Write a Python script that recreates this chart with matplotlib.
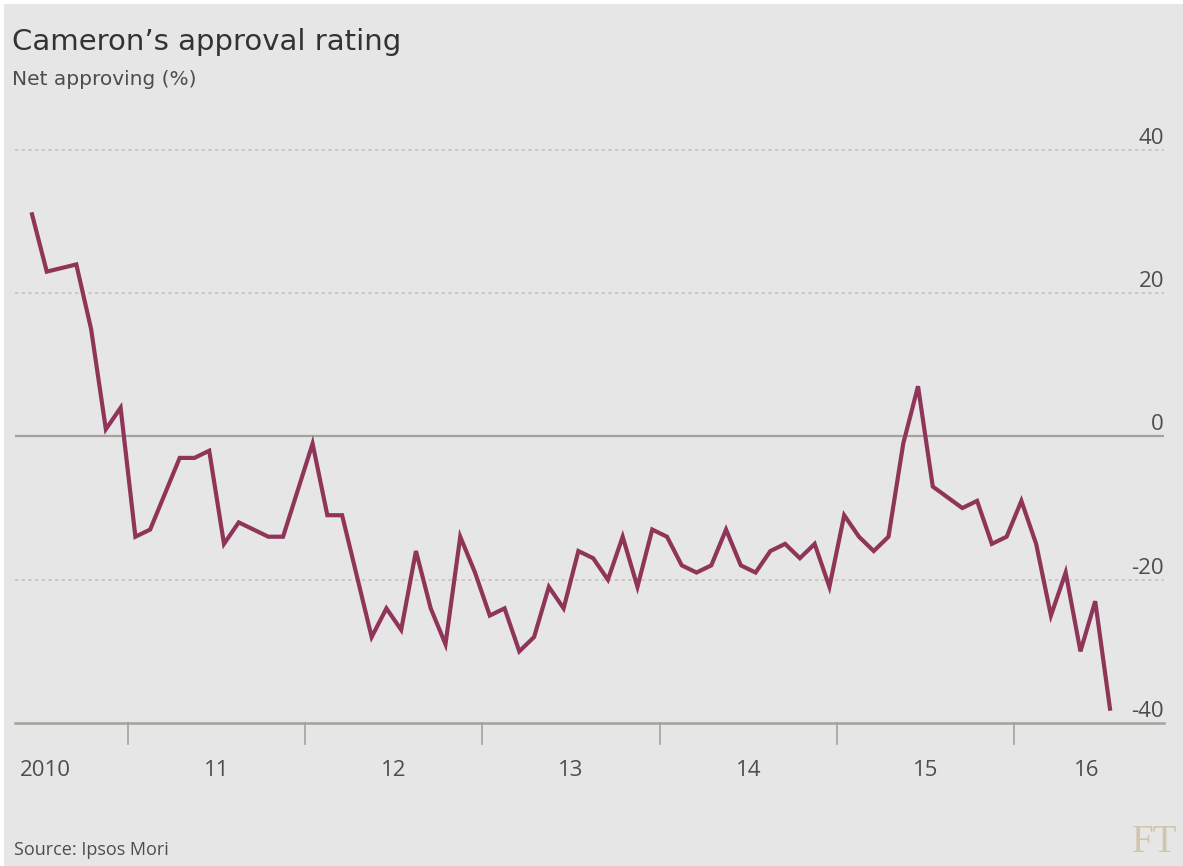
import matplotlib
matplotlib.use("Agg")
import matplotlib.pyplot as plt
from matplotlib.patches import Rectangle

# ---- data ----
months = ["2010-06", "2010-07", "2010-09", "2010-10", "2010-11", "2010-12",
          "2011-01", "2011-02", "2011-04", "2011-05", "2011-06", "2011-07", "2011-08", "2011-10", "2011-11",
          "2012-01", "2012-02", "2012-03", "2012-05", "2012-06", "2012-07", "2012-08", "2012-09", "2012-10",
          "2012-11", "2012-12",
          "2013-01", "2013-02", "2013-03", "2013-04", "2013-05", "2013-06", "2013-07", "2013-08", "2013-09",
          "2013-10", "2013-11", "2013-12",
          "2014-01", "2014-02", "2014-03", "2014-04", "2014-05", "2014-06", "2014-07", "2014-08", "2014-09",
          "2014-10", "2014-11", "2014-12",
          "2015-01", "2015-02", "2015-03", "2015-04", "2015-05", "2015-06", "2015-07", "2015-09", "2015-10",
          "2015-11", "2015-12",
          "2016-01", "2016-02", "2016-03", "2016-04", "2016-05", "2016-06", "2016-07"]
net_approval = [31, 23, 24, 15, 1, 4,
                -14, -13, -3, -3, -2, -15, -12, -14, -14,
                -1, -11, -11, -28, -24, -27, -16, -24, -29, -14, -19,
                -25, -24, -30, -28, -21, -24, -16, -17, -20, -14, -21, -13,
                -14, -18, -19, -18, -13, -18, -19, -16, -15, -17, -15, -21,
                -11, -14, -16, -14, -1, 7, -7, -10, -9, -15, -14,
                -9, -15, -25, -19, -30, -23, -38]
year_ticks = [2011, 2012, 2013, 2014, 2015, 2016]
year_labels = ["2010", "11", "12", "13", "14", "15", "16"]
year_label_pos = [2010.39, 2011.5, 2012.5, 2013.5, 2014.5, 2015.5, 2016.41]
y_ticks = [40, 20, 0, -20, -40]

title = "Cameron\u2019s approval rating"
subtitle = "Net approving (%)"
source = "Source: Ipsos Mori"

# convert months to decimal year (mid-month)
x = [int(m[:4]) + (int(m[5:]) - 0.5) / 12 for m in months]

# ---- style ----
BG = "#e6e6e6"
LINE = "#8f3558"
GRID = "#c9c3b6"
AXIS = "#a3a39c"
TEXT = "#4d4d4d"
LABF = "Open Sans"
PX_PER_UNIT = 7.17

W, H = 1183, 866
fig = plt.figure(figsize=(W / 100, H / 100), dpi=100, facecolor="white")
fig.patches.append(Rectangle((4 / W, 0), 1, 1 - 4 / H, transform=fig.transFigure,
                             facecolor=BG, edgecolor="none", zorder=-10))

left_px, right_px = 15, 1164
top_px, bot_px = 114, 723
ax = fig.add_axes([left_px / W, 1 - bot_px / H, (right_px - left_px) / W, (bot_px - top_px) / H])
ax.set_facecolor("none")

x0 = 2011 + (left_px - 128) / 177.2
x1 = 2011 + (right_px - 128) / 177.2
ax.set_xlim(x0, x1)
ax.set_ylim(-40, 45)

for s in ax.spines.values():
    s.set_visible(False)
ax.set_xticks([])
ax.set_yticks([])

# gridlines and right-hand value labels
for yv in y_ticks:
    if yv == 0:
        ax.axhline(0, color=AXIS, lw=1.6, zorder=1)
    elif yv == -40:
        ax.axhline(-40, color=AXIS, lw=1.8, zorder=1, clip_on=False)
    else:
        ax.axhline(yv, color=GRID, lw=1.2, ls=(0, (2, 2)), zorder=1)
    ax.annotate(str(yv), xy=(1, yv), xycoords=("axes fraction", "data"),
                xytext=(0, 6), textcoords="offset pixels", ha="right", va="baseline",
                fontsize=16, color=TEXT, family=LABF)

# year boundary ticks
for t in year_ticks:
    ax.plot([t, t], [-40, -40 - 21 / PX_PER_UNIT], color=AXIS, lw=1.2, clip_on=False, zorder=1)

for lab, pos in zip(year_labels, year_label_pos):
    ax.text(pos, -40 - 53 / PX_PER_UNIT, lab, ha="left" if lab == "2010" else "center",
            va="baseline", fontsize=16, color=TEXT, family=LABF)

# data line
ax.plot(x, net_approval, color=LINE, lw=3.0, solid_joinstyle="miter", zorder=3, clip_on=False)

# texts
fig.text(12 / W, 1 - 50 / H, title, fontsize=21, color="#333333", family="DejaVu Sans",
         ha="left", va="baseline")
fig.text(12 / W, 1 - 85 / H, subtitle, fontsize=14.5, color=TEXT, family="DejaVu Sans",
         ha="left", va="baseline")
fig.text(14 / W, 1 - 855 / H, source, fontsize=13, color=TEXT, family=LABF,
         ha="left", va="baseline")
fig.text(1177 / W, 1 - 852 / H, "FT", fontsize=28, color="#d2c5b0", family="Liberation Serif",
         ha="right", va="baseline")

fig.savefig("out.png", dpi=100, facecolor="white")
